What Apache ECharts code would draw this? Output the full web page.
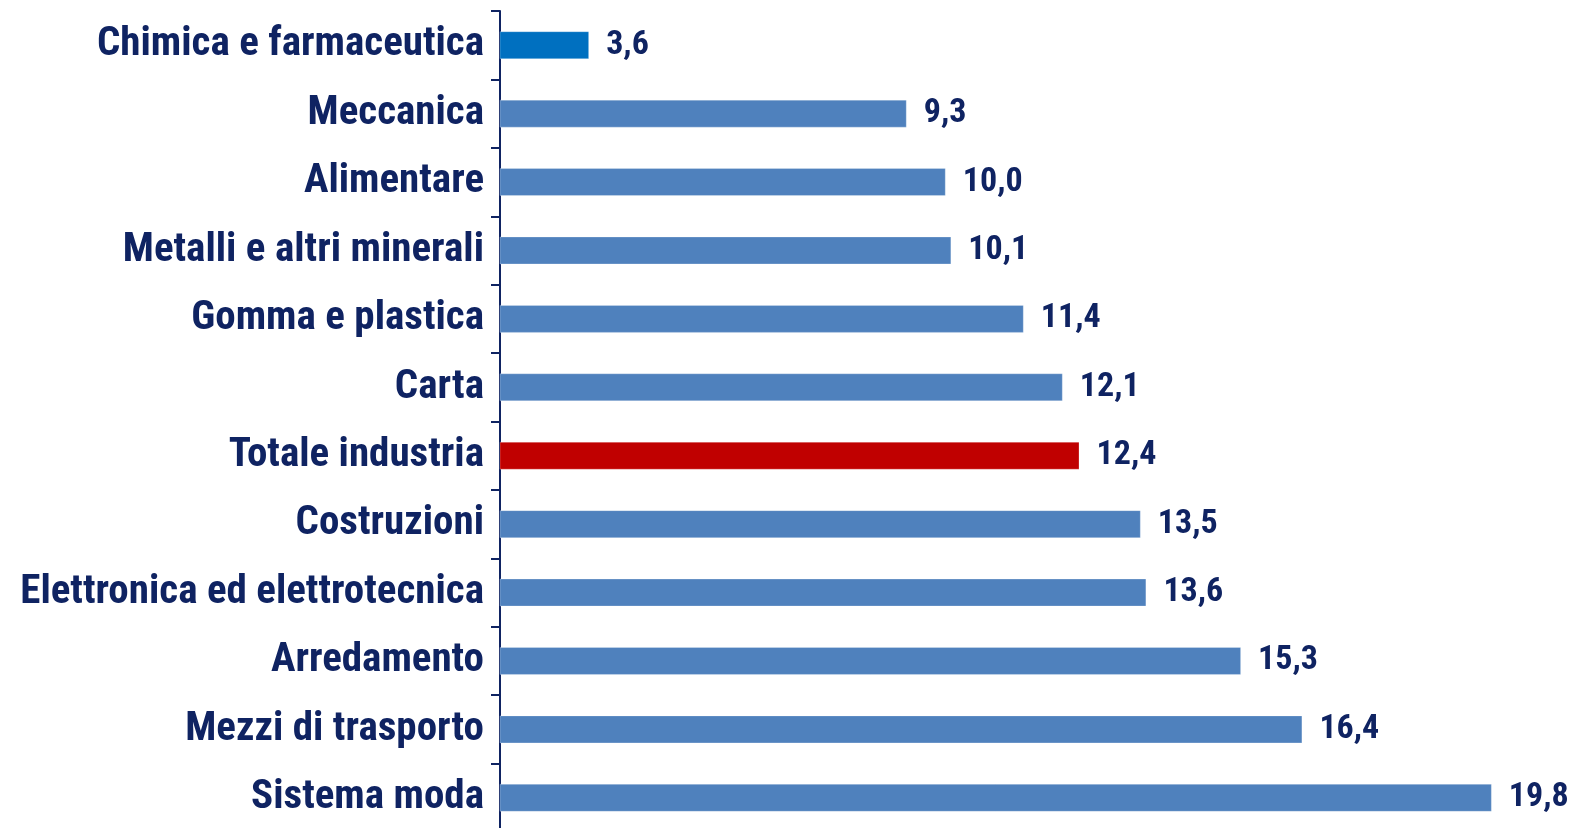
<!DOCTYPE html>
<html>
<head>
<meta charset="utf-8">
<script src="https://cdn.jsdelivr.net/npm/echarts@6/dist/echarts.min.js"></script>
<style>
html,body{margin:0;padding:0;background:#fff;}
#chart{width:1570px;height:828px;}
</style>
</head>
<body>
<div id="chart"></div>
<script>
const categories = [
  'Chimica e farmaceutica',
  'Meccanica',
  'Alimentare',
  'Metalli e altri minerali',
  'Gomma e plastica',
  'Carta',
  'Totale industria',
  'Costruzioni',
  'Elettronica ed elettrotecnica',
  'Arredamento',
  'Mezzi di trasporto',
  'Sistema moda'
];
const values = [3.6, 9.3, 10.0, 10.1, 11.4, 12.1, 12.4, 13.5, 13.6, 15.3, 16.4, 19.8];

const baseColor = '#4F81BD';
const specialColors = {
  'Chimica e farmaceutica': '#0070C0',
  'Totale industria': '#C00000'
};
const textColor = '#0F2362';
const fontFam = '"Roboto Condensed", Roboto, sans-serif';

const chart = echarts.init(document.getElementById('chart'), null, {renderer: 'canvas'});
chart.setOption({
  animation: false,
  grid: {left: 500, top: 11, width: 1003, height: 821, containLabel: false, outerBoundsMode: 'none'},
  xAxis: {
    type: 'value', min: 2, max: 20, show: false,
    splitLine: {show: false}
  },
  yAxis: {
    type: 'category',
    data: categories,
    inverse: true,
    axisLine: {show: true, lineStyle: {color: textColor, width: 2}},
    axisTick: {show: true, length: 9, lineStyle: {color: textColor, width: 2}},
    axisLabel: {
      margin: 16,
      color: textColor,
      fontFamily: fontFam,
      fontWeight: 'bold',
      fontSize: 41,
      padding: [0, 0, 14, 0]
    },
    splitLine: {show: false}
  },
  series: [{
    type: 'bar',
    barWidth: 28,
    data: values.map((v, i) => ({
      value: v,
      itemStyle: {color: specialColors[categories[i]] || baseColor}
    })),
    itemStyle: {borderColor: 'rgba(255,255,255,0.25)', borderWidth: 1},
    label: {
      show: true,
      position: 'right',
      distance: 17,
      color: textColor,
      fontFamily: fontFam,
      fontWeight: 'bold',
      fontSize: 34,
      formatter: p => p.value.toFixed(1).replace('.', ',')
    }
  }]
});
</script>
</body>
</html>
